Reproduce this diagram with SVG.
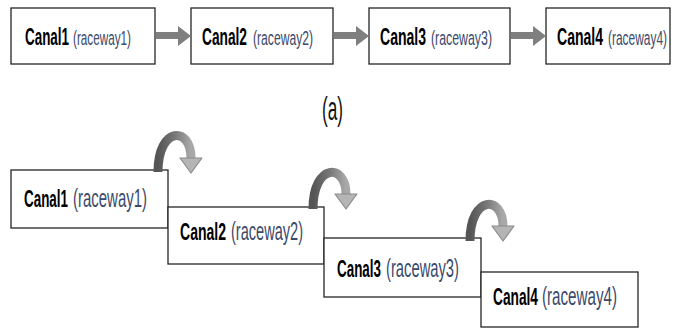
<svg xmlns="http://www.w3.org/2000/svg" width="677" height="329" viewBox="0 0 677 329">
<style>
.box{fill:#fff;stroke:#262626;stroke-width:1.3}
.b{font-family:"Liberation Sans",Arial,sans-serif;font-weight:bold;font-size:15px;fill:#000}
.r{font-family:"Liberation Sans",Arial,sans-serif;font-size:13.5px;fill:#3b4a6b}
.r2{font-family:"Liberation Sans",Arial,sans-serif;font-size:17px;fill:#3b4a6b}
.harr{fill:#7f7f7f}
.carc{fill:none;stroke:url(#cg);stroke-width:9}
.chead{fill:#b5b5b5;stroke:#8c8c8c;stroke-width:1.2;stroke-linejoin:round}
</style>
<defs>
<linearGradient id="cg" x1="0" y1="0" x2="1" y2="0">
<stop offset="0" stop-color="#555"/>
<stop offset="0.5" stop-color="#777"/>
<stop offset="1" stop-color="#a9a9a9"/>
</linearGradient>
</defs>
<rect width="677" height="329" fill="#fff"/>

<g id="top-canal1">
<rect class="box" x="11" y="8" width="144" height="56"/>
<text class="b" transform="translate(25,45) scale(1,1.55)" textLength="44" lengthAdjust="spacingAndGlyphs">Canal1</text>
<text class="r" transform="translate(73,45) scale(1,1.5)" textLength="58" lengthAdjust="spacingAndGlyphs">(raceway1)</text>
</g>
<g id="top-canal2">
<rect class="box" x="191" y="8" width="142" height="56"/>
<text class="b" transform="translate(202,45) scale(1,1.55)" textLength="45" lengthAdjust="spacingAndGlyphs">Canal2</text>
<text class="r" transform="translate(253,45) scale(1,1.5)" textLength="60" lengthAdjust="spacingAndGlyphs">(raceway2)</text>
</g>
<g id="top-canal3">
<rect class="box" x="369" y="8" width="141" height="56"/>
<text class="b" transform="translate(380,45) scale(1,1.55)" textLength="46" lengthAdjust="spacingAndGlyphs">Canal3</text>
<text class="r" transform="translate(431,45) scale(1,1.5)" textLength="61" lengthAdjust="spacingAndGlyphs">(raceway3)</text>
</g>
<g id="top-canal4">
<rect class="box" x="546" y="8" width="124" height="56"/>
<text class="b" transform="translate(557,45) scale(1,1.55)" textLength="46" lengthAdjust="spacingAndGlyphs">Canal4</text>
<text class="r" transform="translate(608,45) scale(1,1.5)" textLength="59" lengthAdjust="spacingAndGlyphs">(raceway4)</text>
</g>

<text font-family="'Liberation Sans',Arial,sans-serif" font-size="20" fill="#111" transform="translate(322,120) scale(1,1.65)" textLength="21" lengthAdjust="spacingAndGlyphs">(a)</text>

<g id="bottom-canal1">
<rect class="box" x="11" y="170" width="157" height="58"/>
<text class="b" transform="translate(24,207) scale(1,1.55)" textLength="44" lengthAdjust="spacingAndGlyphs">Canal1</text>
<text class="r2" transform="translate(73,207) scale(1,1.5)" textLength="74" lengthAdjust="spacingAndGlyphs">(raceway1)</text>
</g>
<g id="bottom-canal2">
<rect class="box" x="168" y="207" width="156" height="57"/>
<text class="b" transform="translate(180,240) scale(1,1.55)" textLength="46" lengthAdjust="spacingAndGlyphs">Canal2</text>
<text class="r2" transform="translate(231,240) scale(1,1.5)" textLength="72" lengthAdjust="spacingAndGlyphs">(raceway2)</text>
</g>
<g id="bottom-canal3">
<rect class="box" x="324" y="238" width="157" height="59"/>
<text class="b" transform="translate(337,277) scale(1,1.55)" textLength="44" lengthAdjust="spacingAndGlyphs">Canal3</text>
<text class="r2" transform="translate(386,277) scale(1,1.5)" textLength="73" lengthAdjust="spacingAndGlyphs">(raceway3)</text>
</g>
<g id="bottom-canal4">
<rect class="box" x="481" y="272" width="157" height="55"/>
<text class="b" transform="translate(493,305) scale(1,1.55)" textLength="45" lengthAdjust="spacingAndGlyphs">Canal4</text>
<text class="r2" transform="translate(542,305) scale(1,1.5)" textLength="75" lengthAdjust="spacingAndGlyphs">(raceway4)</text>
</g>

<g id="connectors">
<polygon class="harr" points="156,32 178,32 178,26 191,36 178,46 178,39 156,39"/>
<polygon class="harr" points="334,32 356,32 356,26 369,36 356,46 356,39 334,39"/>
<polygon class="harr" points="511,32 533,32 533,26 546,36 533,46 533,39 511,39"/>

<path class="carc" d="M158,172 C158,126 191,126 191,158"/>
<polygon class="chead" points="180,158 202,158 191,173"/>

<path class="carc" d="M313,209 C313,163 346,163 346,194"/>
<polygon class="chead" points="335,194 357,194 346,209"/>

<path class="carc" d="M470,241 C470,195 503,195 503,226"/>
<polygon class="chead" points="492,226 514,226 503,241"/>
</g>
</svg>
